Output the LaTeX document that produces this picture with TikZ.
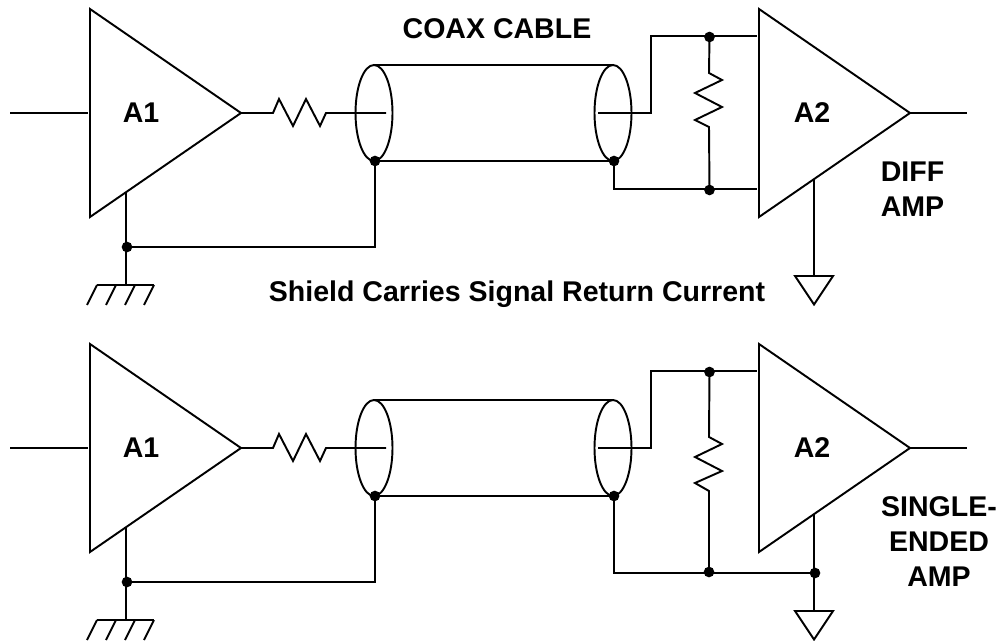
\documentclass[tikz,border=0pt]{standalone}
\usepackage{fontspec}
\setmainfont{Liberation Sans}
\usetikzlibrary{positioning,shapes.geometric}
\tikzset{
  wire/.style={draw,line width=1.45pt,line join=miter},
  ampnode/.style={draw,line width=1.45pt,isosceles triangle,isosceles triangle stretches,shape border rotate=0,
    minimum width=156pt,minimum height=113.25pt,inner sep=0pt,outer sep=0pt},
  coaxend/.style={draw,line width=1.45pt,ellipse,minimum width=27.75pt,minimum height=72pt,inner sep=0pt,outer sep=0pt},
  joint/.style={circle,fill=black,minimum size=8pt,inner sep=0pt,outer sep=0pt},
  bodytext/.style={font=\fontsize{21.4}{26.25}\selectfont\bfseries,inner sep=0pt,align=center}
}

\begin{document}
\begin{tikzpicture}[x=0.75pt,y=-0.75pt]
    \useasboundingbox (0,0) rectangle (999,641);

    \foreach \row/\dy in {1/0,2/335} {
      \begin{scope}[shift={(0,\dy)}]
        % source amplifier
        \node[ampnode,anchor=apex] (ampA\row) at (241,113) {};
        \node[bodytext] (labA\row) at (141,113) {A1};
        \coordinate (inA\row) at (10,113);
        \coordinate (inEndA\row) at (88,113);
        \draw[wire] (inA\row) -- (inEndA\row);

        % coax cable
        \node[coaxend] (coaxL\row) at (374,113) {};
        \node[coaxend] (coaxR\row) at (613,113) {};
        \draw[wire] (coaxL\row.north) -- (coaxR\row.north);
        \node[joint] (shieldL\row) at (375,161) {};
        \node[joint] (shieldR\row) at (614,161) {};
        \draw[wire] (shieldL\row.center) -- (shieldR\row.center);

        % series resistor, inner conductor
        \coordinate (coreL\row) at (386,113);
        \draw[wire] (ampA\row.apex) -- ++(32,0) -- ++(6,-14) -- ++(14,27) -- ++(13,-27) -- ++(14,27) -- ++(6,-13) -- (coreL\row);

        % ground of the source
        \coordinate (gndTopA\row) at (126,192.5);
        \node[joint] (gndJointA\row) at (127,247) {};
        \coordinate (gndA\row) at (126,285);
        \draw[wire] (gndTopA\row) -- (gndA\row);
        \draw[wire] (gndJointA\row.center) -| (shieldL\row.center);
        \draw[wire] (97,285) -- (154,285);
        \foreach \hx in {97,116,135,154} {
          \draw[wire] (\hx,285) -- ++(-10,20);
        }

        % receiving amplifier
        \node[ampnode,anchor=apex] (ampB\row) at (910,113) {};
        \node[bodytext] (labB\row) at (812,113) {A2};
        \coordinate (outB\row) at (967,113);
        \draw[wire] (ampB\row.apex) -- (outB\row);
        \coordinate (coreR\row) at (598,113);
        \node[joint] (topJoint\row) at (709.5,37) {};
        \coordinate (inTopB\row) at (757,36);
        \draw[wire] (coreR\row) -- (651,113) |- (inTopB\row);

        % ground of the receiver
        \coordinate (gndTopB\row) at (814,180);
        \coordinate (gndB\row) at (814,276);
        \draw[wire] (gndTopB\row) -- (gndB\row);
        \draw[wire] (795,276) -- (833,276) -- (814,304.5) -- cycle;
      \end{scope}
    }

    % termination, first row
    \node[joint] (botJoint1) at (709.5,190) {};
    \coordinate (inBotB1) at (757,189);
    \draw[wire] (shieldR1.center) |- (inBotB1);
    \draw[wire] (topJoint1.center) -- (709,73) -- ++(13,7) -- ++(-27,13) -- ++(27,14) -- ++(-27,13) -- ++(14,7) -- (botJoint1.center);

    % termination, second row
    \node[joint] (botJoint2) at (709,572) {};
    \node[joint] (gndJointB2) at (815,573) {};
    \draw[wire] (shieldR2.center) |- (gndJointB2.center);
    \draw[wire] (topJoint2.center) -- (709,437) -- ++(13,7) -- ++(-27,13) -- ++(27,14) -- ++(-27,12) -- ++(14,8) -- (botJoint2.center);

    \node[bodytext] (coaxLabel) at (497,29) {COAX CABLE};
    \node[bodytext,anchor=base] (shieldLabel) at (517,301.5) {Shield Carries Signal Return Current};
    \node[bodytext] (diffLabel) at (912.5,189) {DIFF\\AMP};
    \node[bodytext] (singleLabel) at (939,541.5) {SINGLE-\\ENDED\\AMP};
  \end{tikzpicture}
\end{document}
